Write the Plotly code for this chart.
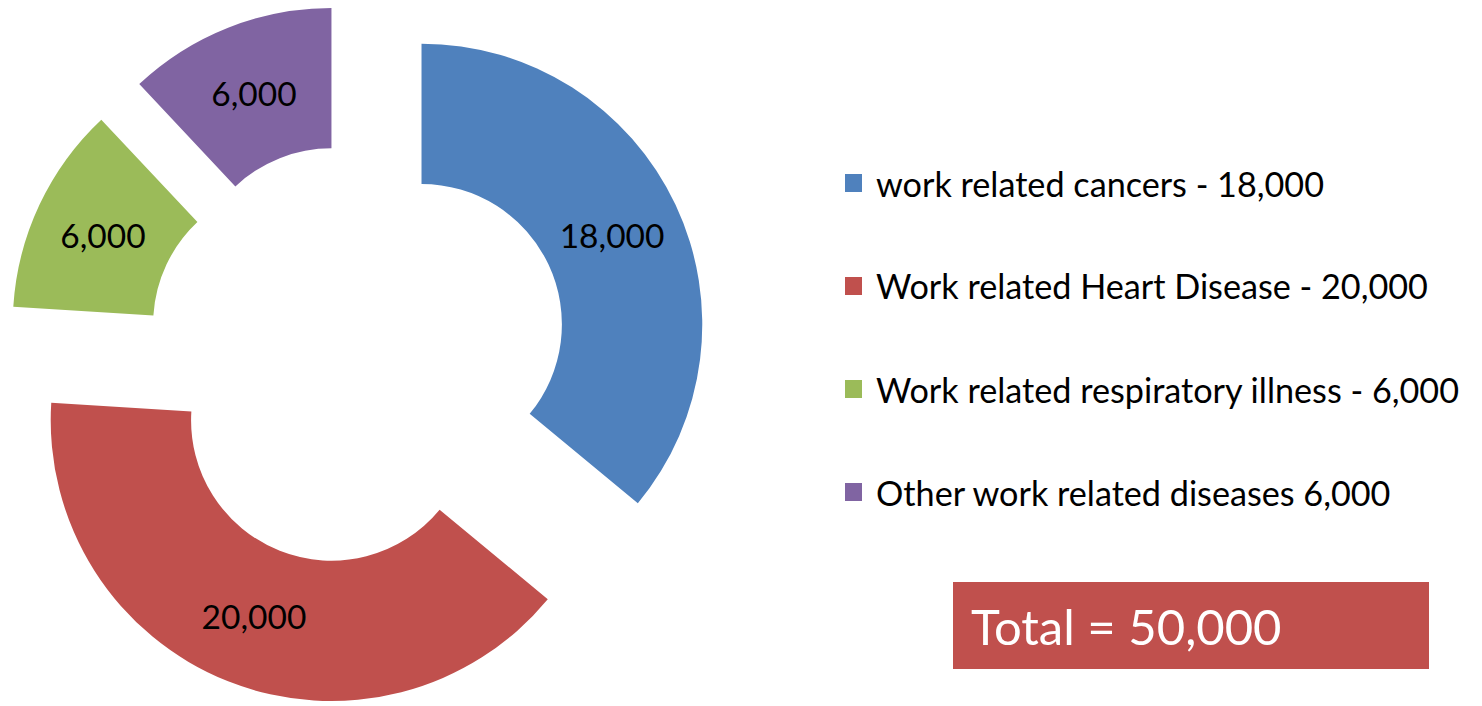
import plotly.graph_objects as go

labels = ["work related cancers", "Work related Heart Disease",
          "Work related respiratory illness", "Other work related diseases"]
legend_texts = ["work related cancers - 18,000", "Work related Heart Disease - 20,000",
                "Work related respiratory illness - 6,000", "Other work related diseases 6,000"]
values = [18000, 20000, 6000, 6000]
colors = ["#4F81BD", "#C0504D", "#9BBB59", "#8064A2"]

FONT = "Lato, sans-serif"
W, H = 1482, 706

fig = go.Figure()
fig.add_trace(go.Pie(
    labels=labels, values=values, sort=False, direction="clockwise", rotation=0,
    hole=0.5, pull=[0.252] * len(values),
    marker=dict(colors=colors, line=dict(width=0)),
    texttemplate="%{value:,.0f}", textposition="inside",
    insidetextorientation="horizontal",
    insidetextfont=dict(family=FONT, size=33.5, color="black"),
    showlegend=False,
    domain=dict(x=[4.5 / W, 710.5 / W], y=[0, 703 / H]),
))

# legend (manual, to match large squares and wide spacing)
row_y = [183, 286, 389, 492]
for txt, col, yy in zip(legend_texts, colors, row_y):
    fig.add_shape(type="rect", xref="paper", yref="paper",
                  x0=845 / W, x1=862 / W, y0=1 - (yy + 9) / H, y1=1 - (yy - 9) / H,
                  fillcolor=col, line=dict(width=0))
    fig.add_annotation(xref="paper", yref="paper", x=874 / W, y=1 - yy / H,
                       xanchor="left", yanchor="middle", showarrow=False,
                       text=txt, font=dict(family=FONT, size=34.2, color="black"))

# total box
total = sum(values)
fig.add_shape(type="rect", xref="paper", yref="paper",
              x0=953 / W, x1=1429 / W, y0=1 - 669 / H, y1=1 - 582 / H,
              fillcolor="#C0504D", line=dict(width=0))
fig.add_annotation(xref="paper", yref="paper", x=969 / W, y=1 - 626 / H,
                   xanchor="left", yanchor="middle", showarrow=False,
                   text=f"Total = {total:,}", font=dict(family=FONT, size=49, color="white"))

fig.update_layout(width=W, height=H, margin=dict(l=0, r=0, t=0, b=0),
                  paper_bgcolor="white", plot_bgcolor="white")
fig.write_html("out.html")
